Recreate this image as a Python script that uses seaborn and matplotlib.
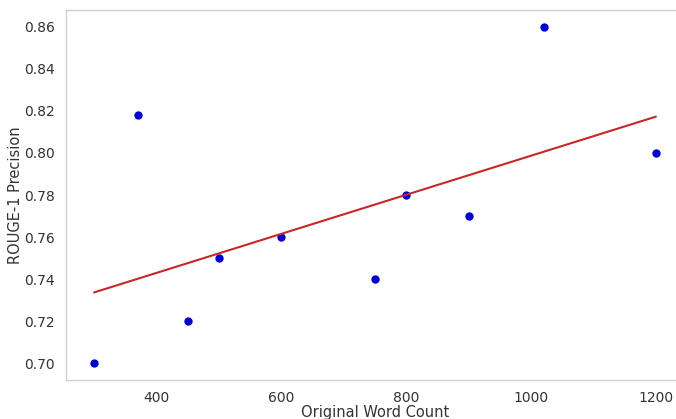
import matplotlib
matplotlib.use("Agg")
import matplotlib.pyplot as plt
import seaborn as sns
import pandas as pd

word_count = [300, 370, 450, 500, 600, 750, 800, 900, 1020, 1200]
rouge1_precision = [0.70, 0.818, 0.72, 0.75, 0.76, 0.74, 0.78, 0.77, 0.86, 0.80]

df = pd.DataFrame({"Original Word Count": word_count,
                   "ROUGE-1 Precision": rouge1_precision})

sns.set_style("white")
plt.rcParams['font.family'] = ['DejaVu Sans']

fig = plt.figure(figsize=(6.76, 4.19), dpi=100)
ax = fig.add_axes([66/676, 39/419, 618/676, 370/419])

sns.regplot(data=df, x="Original Word Count", y="ROUGE-1 Precision", ax=ax,
            ci=None, scatter_kws={"color": "#0000cc", "s": 36, "alpha": 1.0, "linewidths": 0},
            line_kws={"color": "#c62828", "linewidth": 1.5})

for s in ax.spines.values():
    s.set_color("#d0d0d0")
    s.set_linewidth(1.0)
ax.spines["right"].set_visible(False)

ax.set_xticks([400, 600, 800, 1000, 1200])
ax.set_yticks([0.70, 0.72, 0.74, 0.76, 0.78, 0.80, 0.82, 0.84, 0.86])
ax.tick_params(axis="both", labelsize=10, colors="#333333", length=0, pad=8)
ax.set_xlabel("Original Word Count", fontsize=10.5, color="#333333", labelpad=0)
ax.set_ylabel("ROUGE-1 Precision", fontsize=10.5, color="#333333", labelpad=1)
ax.grid(False)

fig.savefig("out.png", dpi=100)
